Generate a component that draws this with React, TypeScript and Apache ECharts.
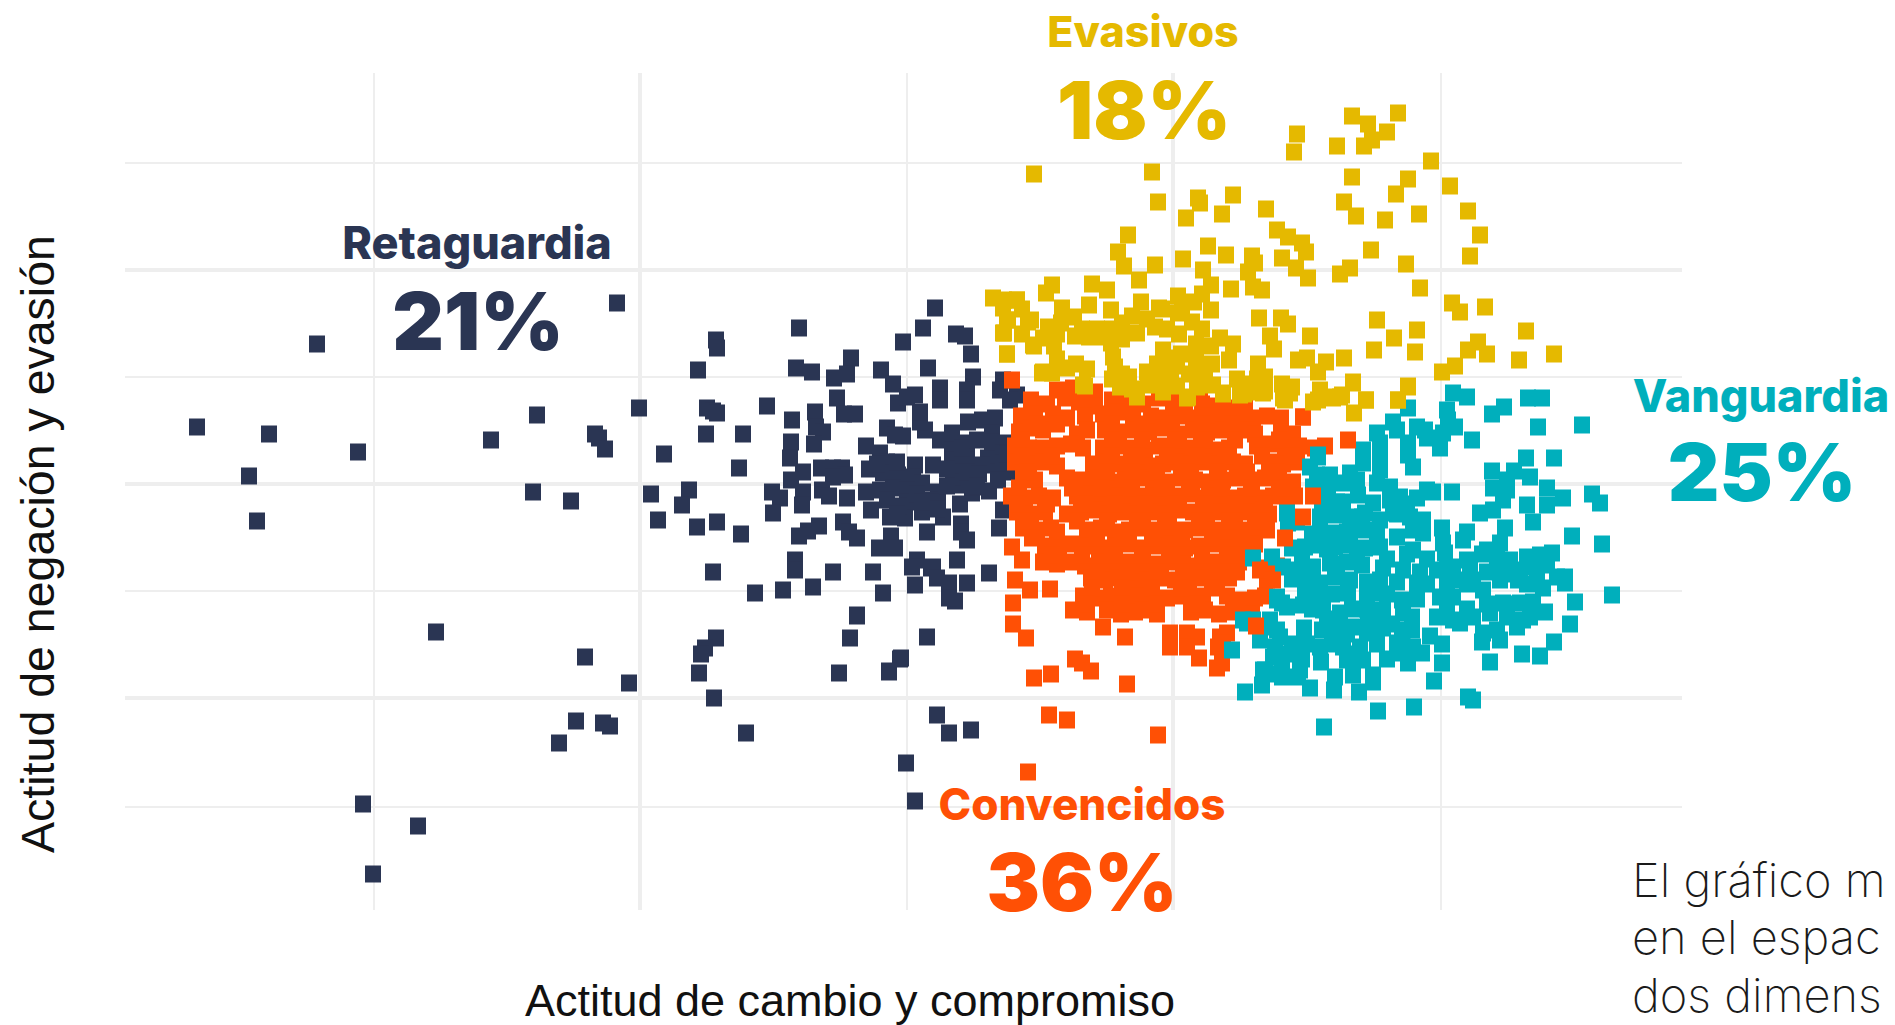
import React, { useEffect, useRef } from "react";
import * as echarts from "echarts";

const xMajorGrid = [-267, 266];
const xMinorGrid = [-533, 0, 534];
const yMajorGrid = [214, 0, -214];
const yMinorGrid = [321, 107, -107, -323];

const retaguardia: number[][] = [
[-710,57],[-638,50],[-658,8],[-650,-37],[-590,140],[-549,32],[-471,-148],[-416,44],[-370,69],[-374,-8],[-336,-17],[-312,50],[-308,46],[-302,35],[-290,181],[-268,76],
[-108,156],[-191,144],[-190,136],[-209,114],[-111,116],[-95,112],[-56,126],[-60,110],[-73,106],[28,176],[16,156],[-4,142],[49,150],[58,148],[64,130],[-26,114],[21,116],[66,107],[-14,100],
[-140,78],[-200,76],[-194,73],[-190,71],[-70,86],[-92,72],[-115,64],[-63,70],[-52,70],[-201,50],[-164,50],[-91,57],[-84,52],[-116,42],[-93,40],[-243,30],[-117,26],[-168,16],[-104,12],[-86,16],[-74,16],[-65,16],[-62,9],[-74,7],[-116,4],[-218,-6],[-256,-10],[-225,-21],[-249,-36],[-210,-43],[-190,-38],[-166,-50],
[-135,-8],[-127,-14],[-104,-8],[-105,-21],[-134,-29],[-85,-6],[-78,-12],[-60,-14],[-41,-8],[-36,-26],[-88,-42],[-99,-47],[-108,-52],[-64,-38],[-58,-48],[-50,-54],[-16,-52],[-28,-64],[-12,-64],[-112,-76],[-112,-86],[-194,-88],[-74,-88],[-34,-88],[10,-76],[5,-83],[26,-83],[50,-76],[82,-89],[20,-48],[54,-40],[54,-48],[60,-56],[92,-44],[96,-26],[82,-7],
[-41,38],[-27,31],[-20,22],[-38,15],[-24,11],[-9,9],[-20,56],[-12,49],[-4,48],[8,19],[26,19],[6,7],[15,1],[-14,-4],[-27,-6],[0,-6],[31,-8],[-20,-16],[0,-18],[23,-16],[31,-18],[-17,-33],[-2,-34],[15,-28],[36,-33],[53,-20],[65,-9],[66,-3],[50,-1],[46,7],[45,19],[45,29],[60,27],[81,26],[75,19],[91,12],[103,12],[91,4],[45,41],[60,41],[33,44],[18,54],[45,51],[61,62],[75,64],[88,66],[85,51],[85,42],[100,41],[113,43],[96,31],[96,21],[13,62],[13,72],[8,89],[-9,81],[0,87],[33,96],[33,84],[60,94],[60,84],[96,104],[93,94],[110,89],[103,84],
[-152,-109],[-124,-106],[-94,-103],[-24,-109],[-50,-131],[-57,-154],[-68,-189],[-18,-188],[-7,-175],[20,-153],[8,-101],[24,-84],[30,-94],[42,-99],[60,-99],[48,-117],[42,-114],
[-191,-154],[-202,-164],[-206,-170],[-208,-189],[-193,-214],[-161,-249],[-322,-173],[-278,-199],[-331,-237],[-304,-239],[-297,-242],[-348,-259],[-544,-320],[-489,-342],[-534,-390],[-50,-132],[-6,-174],[-18,-187],[30,-231],[42,-249],[64,-246],[-1,-279],[8,-317],
[-10,22],[10,-10],[-8,-22],[40,-2],[60,12],[72,10],[55,36],[70,44],[100,30],[110,28],[30,-25],[-30,20],[15,-18],[-10,-30],[40,15],[70,-2]
];

const convencidos: number[][] = [
[105,104],[125,71],[150,94],[166,96],[188,92],[293,95],
[124,84],[140,80],[158,86],[172,82],[188,78],[205,84],[220,83],[236,80],[252,86],[266,82],[278,80],[295,80],[310,78],[325,76],[338,78],
[114,68],[128,70],[146,70],[160,66],[178,68],[196,70],[210,72],[226,68],[244,68],[258,66],[272,68],[288,66],[302,68],[318,66],[332,68],[346,66],[360,68],[374,66],[396,67],
[112,52],[124,56],[136,54],[170,50],[180,54],[198,54],[212,52],[228,54],[242,52],[256,56],[272,50],[286,54],[300,52],[316,54],[340,54],[348,50],[374,52],[386,50],
[108,38],[122,36],[136,36],[150,38],[164,40],[176,36],[196,36],[210,38],[224,36],[238,34],[252,38],[266,36],[280,36],[294,38],[308,34],[322,36],[350,38],[364,40],[378,36],[392,38],[408,36],[418,38],
[108,22],[122,20],[136,22],[150,18],[186,20],[200,22],[214,20],[228,22],[242,18],[256,20],[270,22],[284,20],[298,22],[312,20],[326,22],[338,20],[362,22],[376,20],[390,22],
[116,6],[128,4],[160,6],[174,4],[190,6],[204,2],[218,4],[232,6],[246,4],[260,2],[274,6],[288,4],[302,2],[316,4],[330,6],[344,4],[358,6],[372,4],[386,2],
[104,-12],[118,-14],[132,-12],[146,-14],[170,-12],[184,-10],[198,-14],[212,-12],[226,-14],[240,-12],[254,-14],[268,-12],[282,-10],[296,-14],[310,-12],[324,-14],[338,-12],[352,-14],[366,-12],[380,-14],[388,-12],
[110,-28],[124,-30],[138,-28],[160,-30],[174,-28],[188,-26],[202,-30],[216,-28],[230,-30],[244,-28],[258,-30],[272,-26],[286,-28],[300,-30],[314,-28],[328,-30],[342,-28],[356,-26],[362,-30],
[116,-44],[130,-46],[144,-44],[150,-48],[180,-46],[194,-44],[208,-48],[222,-46],[236,-44],[250,-46],[264,-48],[278,-46],[292,-44],[306,-46],[320,-48],[334,-46],[348,-44],[360,-46],
[138,-62],[152,-64],[166,-60],[180,-62],[194,-64],[208,-62],[222,-60],[236,-64],[250,-62],[264,-60],[278,-64],[292,-62],[306,-60],[320,-64],[334,-62],[348,-60],
[136,-78],[150,-80],[164,-78],[178,-82],[192,-78],[206,-80],[220,-78],[234,-82],[248,-80],[262,-78],[276,-80],[290,-82],[304,-78],[318,-80],[332,-78],[354,-84],[370,-82],[360,-96],
[184,-94],[198,-96],[212,-94],[226,-98],[240,-96],[254,-94],[268,-96],[282,-98],[296,-94],[310,-96],[322,-94],
[176,-112],[190,-114],[204,-112],[218,-114],[232,-112],[246,-116],[260,-114],[274,-112],[288,-114],[296,-112],[320,-112],[334,-116],[348,-114],[358,-112],
[166,-126],[180,-128],[200,-126],[214,-130],[228,-128],[236,-126],[250,-130],[284,-128],[298,-126],[312,-130],[326,-128],[345,-130],
[196,-143],[218,-153],[263,-149],[280,-149],[290,-153],[313,-153],[320,-149],[263,-163],[280,-163],[311,-163],[316,-159],[292,-174],[315,-179],[310,-184],
[105,-63],[115,-76],[108,-96],[123,-106],[143,-105],[106,-119],[106,-140],[119,-154],
[127,-194],[144,-190],[168,-175],[175,-179],[184,-187],[220,-200],[142,-231],[160,-236],[251,-251],[121,-288],
[130,60],[150,60],[205,60],[235,60],[265,60],[295,60],[325,60],
[115,44],[205,44],[235,44],[268,44],[298,44],[328,44],[372,44],
[115,28],[145,28],[205,28],[230,28],[260,28],[290,28],[318,28],[355,28],[385,28],
[120,12],[200,12],[225,12],[250,12],[280,12],[310,12],[340,12],[370,12],
[112,-4],[165,-4],[195,-4],[225,-4],[255,-4],[285,-4],[315,-4],[345,-4],[378,-4],
[110,-20],[140,-20],[178,-20],[208,-20],[238,-20],[268,-20],[298,-20],[328,-20],[358,-20],
[120,-37],[170,-37],[200,-37],[232,-37],[262,-37],[292,-37],[322,-37],[352,-37],
[125,-54],[190,-54],[215,-54],[245,-54],[275,-54],[305,-54],[335,-54],
[145,-71],[175,-71],[205,-71],[235,-71],[265,-71],[295,-71],[325,-71],[340,-71],
[190,-88],[220,-88],[250,-88],[280,-88],[310,-88],[330,-88],
[185,-104],[215,-104],[245,-104],[275,-104],[305,-104],
[180,-120],[215,-120],[250,-120],[290,-120],[330,-120]
];

const vanguardia: number[][] = [
[546,91],[560,87],[621,86],[635,86],[597,77],[585,70],[631,57],[675,59],[565,44],[619,26],[647,26],[585,13],[607,13],[623,7],[545,-8],[640,-4],[656,-14],[620,-21],[640,-21],[626,-38],[685,-10],[693,-19],[665,-52],[695,-60],[705,-111],[668,-118],[663,-140],[647,-158],[633,-172],[615,-170],[583,-178],[593,-156],[575,-158],[523,-152],[535,-160],[535,-179],[527,-197],[561,-213],[566,-216],[507,-223],[471,-227],[417,-243],[397,-144],[452,-208],[427,-206],[403,-204],[355,-201],[338,-208],
[501,76],[486,62],[510,57],[470,51],[490,54],[518,54],[540,74],[541,64],[548,57],[536,51],[533,36],[520,46],[456,34],[473,41],[473,27],[501,41],[501,29],[506,17],[456,21],[473,14],[443,11],[423,9],[410,9],[411,29],
[406,-3],[420,1],[436,1],[450,4],[470,1],[483,-3],[520,-6],[510,-14],[526,-8],
[415,-19],[421,-13],[436,-18],[451,-11],[466,-19],[483,-16],[493,-13],[573,-29],[586,-26],[596,-16],[600,-6],[586,-4],[600,4],
[413,-33],[428,-31],[443,-33],[458,-29],[473,-36],[486,-29],[503,-33],[516,-36],[380,-29],[381,-39],[390,-38],[535,-44],[560,-48],[598,-44],[556,-56],[593,-59],[580,-66],
[413,-46],[426,-49],[450,-46],[466,-46],[506,-46],[516,-49],[490,-53],
[385,-64],[398,-63],[413,-61],[428,-63],[443,-61],[458,-64],[473,-63],[506,-66],[536,-59],[538,-69],[560,-76],[590,-73],[603,-76],[620,-73],[633,-71],[645,-69],
[376,-83],[390,-86],[406,-83],[423,-79],[440,-78],[455,-81],[476,-84],[496,-86],[513,-88],[530,-86],[546,-83],[563,-86],[580,-88],[596,-86],[613,-86],[626,-83],[640,-81],[658,-93],[650,-93],
[398,-98],[413,-99],[428,-93],[443,-96],[460,-98],[473,-96],[490,-98],[510,-99],[540,-99],[553,-96],[576,-106],[566,-96],[593,-96],[611,-96],[636,-104],[658,-99],
[398,-113],[396,-121],[415,-113],[441,-109],[460,-113],[470,-109],[495,-116],[533,-113],[546,-113],[596,-119],[613,-119],[626,-118],
[416,-126],[433,-129],[461,-133],[476,-126],[496,-129],[505,-133],[530,-133],[546,-136],[553,-139],[566,-133],[583,-129],[600,-133],[616,-136],[638,-128],[623,-133],
[415,-146],[431,-144],[446,-143],[460,-149],[476,-144],[496,-146],[505,-146],[576,-149],[590,-146],[610,-143],[373,-153],[363,-143],[353,-156],
[413,-163],[436,-163],[453,-163],[490,-159],[506,-163],[515,-169],[368,-163],[366,-173],
[414,-178],[440,-176],[456,-176],[501,-179],[490,-169],[358,-186],[375,-186],[393,-186],[375,-193],[391,-193],[428,-193],[446,-191],[466,-191],[466,-198],
[411,27],[403,17],[346,-74],[365,-73],[395,-66],[336,-136],[325,-166],[353,-149],[370,-116],[380,-123],[370,-146],[373,-173],[356,-186],[346,-136],[370,-113],[375,-119],[340,-139],[363,-136],
[430,-80],[450,-65],[470,-50],[440,-48],[455,-33],[430,-18],[490,-30],[500,-20],[420,-65],[405,-50],[395,-80],[385,-95],[410,-115],[425,-110],[445,-125],[460,-125],[480,-110],[510,-115],[520,-100],[480,-75],[500,-70],[520,-75],[540,-85],[560,-100],[575,-70],[600,-90],[620,-100],[630,-95],[600,-120],[580,-120],[560,-125],[540,-125],[440,-150],[425,-160],[445,-170],[470,-160],[480,-175],[420,-135],[405,-125],[470,-140],[485,-140],[495,-155],[395,-175],[380,-170],[385,-160],[400,-160],[365,-190]
];

const convencidosEncima: number[][] = [[406,-12],[378,-54],[396,-33],[349,-142],[441,44],[396,67],[353,-86],[366,-96]];

const evasivos: number[][] = [
[127,310],[245,312],[251,282],[445,368],[491,371],[461,360],[480,352],[465,344],[457,338],[430,338],[390,350],[387,332],[524,323],[445,307],[501,305],[489,290],[543,298],[561,273],[437,282],[449,268],[478,264],[512,270],[573,249],[563,228],[464,234],[499,220],[443,216],[433,210],[513,196],[545,181],[553,172],[578,177],[619,153],[470,164],[510,154],[487,146],[467,134],[508,132],[571,142],[561,134],[580,130],[612,124],[647,130],[548,118],[535,112],[501,98],[491,84],[446,102],[459,84],[437,126],[419,122],[411,112],[391,124],[400,126],[403,148],[374,166],[381,160],[352,166],[363,148],[367,135],[351,120],[358,107],[358,93],[337,90],[316,90],[322,124],[326,140],[313,146],[289,140],[304,138],[256,134],[274,130],[258,126],[289,124],[264,110],[282,110],[298,109],[306,99],[280,86],[256,92],[241,99],[230,87],[208,117],[206,127],[204,141],[222,107],[178,98],[169,120],[160,116],[145,111],[136,112],[147,138],[127,138],[136,146],[100,130],[182,179],[167,167],[154,161],[124,164],[141,157],[100,164],[97,151],[110,184],[97,184],[139,191],[145,199],[185,200],[200,194],[204,174],[215,161],[182,147],[198,147],[230,151],[248,157],[234,182],[252,176],[271,188],[287,182],[304,174],[285,162],[271,171],[221,249],[211,232],[217,218],[248,219],[232,204],[276,225],[291,286],[293,281],[279,266],[315,270],[326,289],[359,275],[370,254],[381,247],[395,241],[399,232],[375,226],[389,216],[401,206],[301,238],[319,229],[296,214],[304,199],[324,195],[345,228],[348,221],[341,212],[346,197],[355,194],[385,97],[378,84],[413,92],[426,86],[435,89],[411,84],
[86,186],[110,184],[96,176],[101,164],[96,151],[100,130],[121,162],[126,139],[135,111],
[346,92],[358,97],[383,94],[376,86],[413,94],[406,82],[433,87],[446,101],[459,84],[447,71],[501,97],[491,84],[176,99],[213,97],[230,91],[256,94],[281,87],[290,97],[316,91],[333,89],[356,91],[383,91],[413,87],[426,87],
[150,150],[168,148],[190,155],[215,145],[205,155],[175,155],[225,168],[240,165],[260,155],[272,150],[255,175],[295,190],[275,175],[295,155],[150,125],[180,115],[205,105],[225,95],[215,110],[240,112],[255,105],[270,118],[290,100],[305,120],[340,100],[350,105],[375,100],[330,105],[270,98],[250,120],[115,150],[115,175],[155,176]
];

const labels = [
  { text: "Evasivos", x: 1143, y: 31, size: 43, color: "#e5b900" },
  { text: "18%", x: 1144, y: 109, size: 80, color: "#e5b900" },
  { text: "Retaguardia", x: 477, y: 242, size: 45, color: "#2a3553" },
  { text: "21%", x: 478, y: 320, size: 80, color: "#2a3553" },
  { text: "Vanguardia", x: 1761, y: 395, size: 45, color: "#00afbc" },
  { text: "25%", x: 1762, y: 471, size: 80, color: "#00afbc" },
  { text: "Convencidos", x: 1082, y: 804, size: 44, color: "#ff5005" },
  { text: "36%", x: 1082, y: 881, size: 80, color: "#ff5005" },
];
const bodyLines = ["El gráfico m", "en el espac", "dos dimens"];

const ejeX = "Actitud de cambio y compromiso";
const ejeY = "Actitud de negación y evasión";

const point = (name: string, data: number[][], color: string, z: number) => ({
  name, type: "scatter", data, symbol: "rect", symbolSize: [16, 17], z,
  itemStyle: { color, opacity: 1 }, silent: true,
});

const gridLine = (key: string, v: number, width: number) => ({
  [key]: v, lineStyle: { color: "#eeeeee", width, type: "solid" },
});

export default function App() {
  const ref = useRef<HTMLDivElement>(null);
  useEffect(() => {
    document.body.style.margin = "0";
    const chart = echarts.init(ref.current!, undefined, { renderer: "svg" });
    chart.setOption({
      animation: false,
      backgroundColor: "#ffffff",
      grid: { left: 125, top: 73, width: 1557, height: 837 },
      xAxis: { type: "value", min: -782, max: 775, show: false },
      yAxis: { type: "value", min: -426, max: 411, show: false },
      series: [
        {
          name: "grid", type: "scatter", data: [], z: 1, silent: true,
          markLine: {
            silent: true, z: 1, symbol: ["none", "none"], label: { show: false }, animation: false,
            data: [
              ...xMajorGrid.map((v) => gridLine("xAxis", v, 4)),
              ...xMinorGrid.map((v) => gridLine("xAxis", v, 2)),
              ...yMajorGrid.map((v) => gridLine("yAxis", v, 4)),
              ...yMinorGrid.map((v) => gridLine("yAxis", v, 2)),
            ],
          },
        },
        point("Retaguardia", retaguardia, "#2a3553", 2),
        point("Convencidos", convencidos, "#ff5005", 3),
        point("Vanguardia", vanguardia, "#00afbc", 4),
        point("Convencidos ", convencidosEncima, "#ff5005", 5),
        point("Evasivos", evasivos, "#e5b900", 6),
      ],
      graphic: [
        ...labels.map((l) => ({
          type: "text", x: l.x, y: l.y, z: 10,
          style: {
            text: l.text, fill: l.color, align: "center", verticalAlign: "middle",
            fontFamily: "Inter", fontWeight: l.size > 60 ? 900 : 800, fontSize: l.size,
          },
        })),
        ...bodyLines.map((t, i) => ({
          type: "text", x: 1632, y: 879 + i * 57.5, z: 10,
          style: {
            text: t, fill: "#1a1a1a", align: "left", verticalAlign: "middle",
            fontFamily: "Inter", fontWeight: 200, fontSize: 47,
          },
        })),
        {
          type: "text", x: 850, y: 1000, z: 10,
          style: { text: ejeX, fill: "#111111", align: "center", verticalAlign: "middle", fontFamily: "Liberation Sans", fontSize: 45 },
        },
        {
          type: "text", x: 38, y: 544, rotation: Math.PI / 2, z: 10,
          style: { text: ejeY, fill: "#111111", align: "center", verticalAlign: "middle", fontFamily: "Liberation Sans", fontSize: 46.5 },
        },
      ],
    });
    return () => chart.dispose();
  }, []);
  return <div ref={ref} style={{ width: 1895, height: 1025 }} />;
}
